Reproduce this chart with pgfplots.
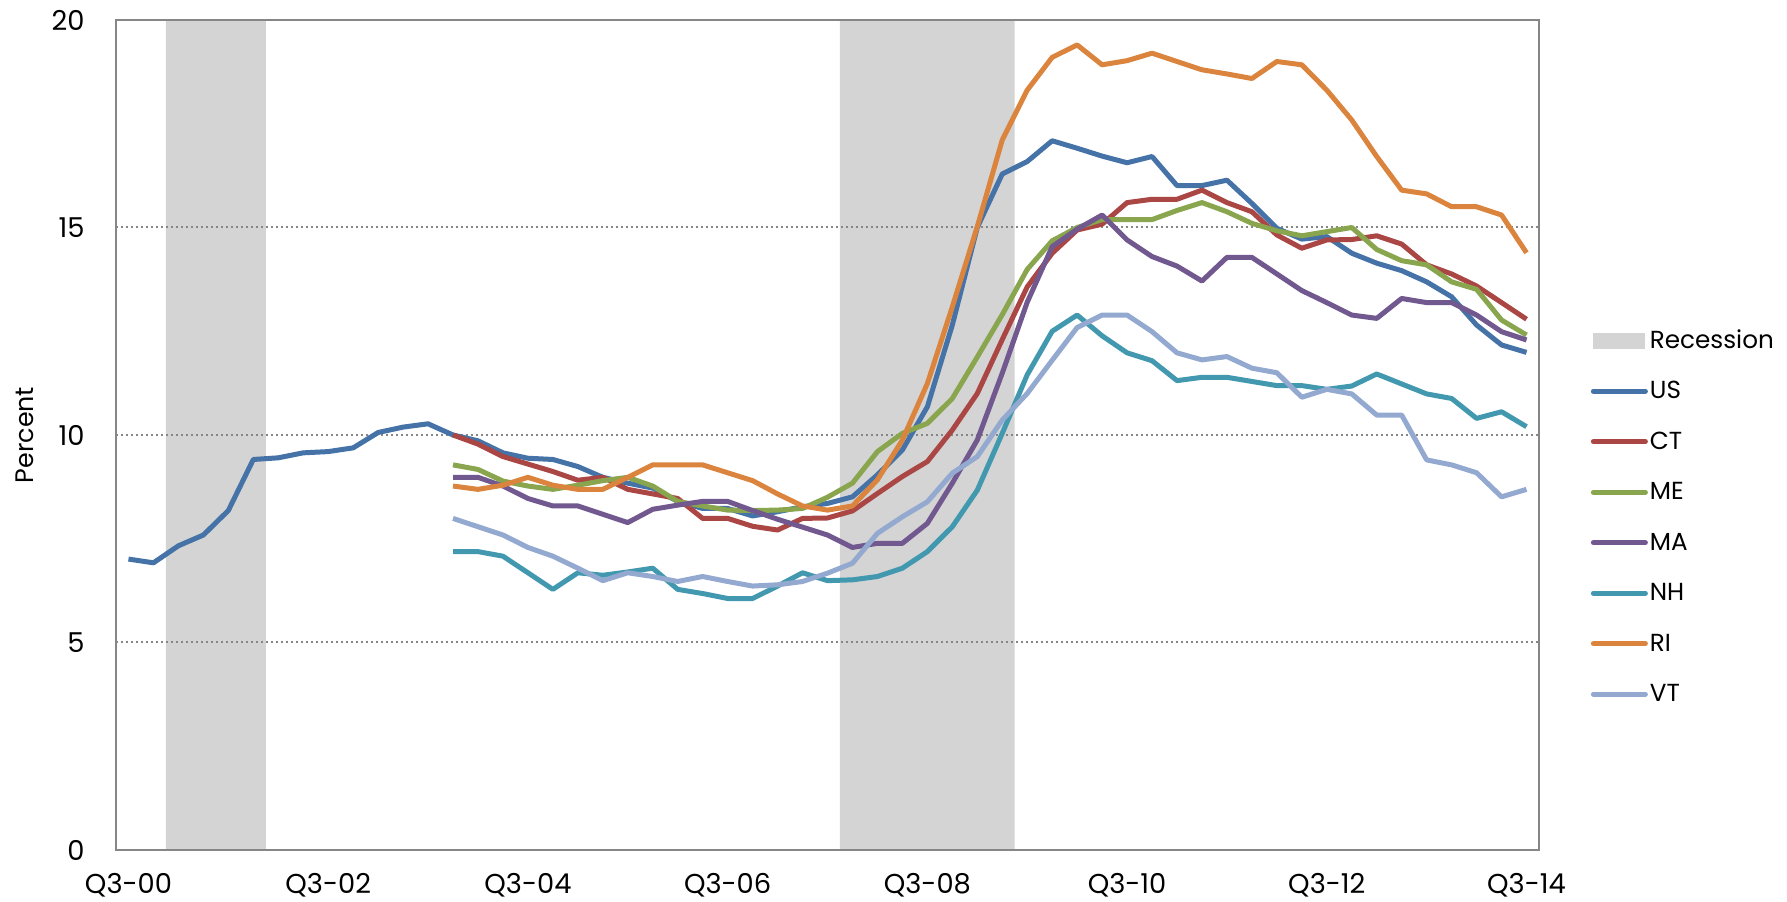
\documentclass[border=0pt]{standalone}
\usepackage{fontspec}
\setmainfont{Poppins}
\usepackage{pgfplots}
\pgfplotsset{compat=1.18}
\definecolor{cUS}{HTML}{4572A7}
\definecolor{cCT}{HTML}{AA4643}
\definecolor{cME}{HTML}{89A54E}
\definecolor{cMA}{HTML}{71588F}
\definecolor{cNH}{HTML}{4198AF}
\definecolor{cRI}{HTML}{DB843D}
\definecolor{cVT}{HTML}{93A9CF}
\definecolor{recgray}{HTML}{D4D4D4}
\definecolor{axgray}{HTML}{868686}
\begin{document}
\begin{tikzpicture}
\begin{axis}[
  set layers,
  at={(34.8pt,15.6pt)}, anchor=south west,
  scale only axis, width=426.9pt, height=249pt,
  xmin=-0.5, xmax=56.5, ymin=0, ymax=20,
  xtick={0,8,16,24,32,40,48,56},
  xticklabels={Q3-00,Q3-02,Q3-04,Q3-06,Q3-08,Q3-10,Q3-12,Q3-14},
  ytick={0,5,10,15,20},
  ymajorgrids,
  grid style={axgray, line width=0.6pt, dash pattern=on 0.6pt off 0.9pt},
  major tick length=0pt,
  axis line style={axgray, line width=0.75pt},
  tick label style={font=\fontsize{8.2}{9.5}\selectfont},
  xticklabel style={anchor=base, inner ysep=0.3pt, yshift=-13.2pt},
  yticklabel style={xshift=-5.9pt},
  /pgf/number format/assume math mode=true,
  ylabel={Percent},
  ylabel style={at={(axis description cs:-0.064,0.5)}, anchor=center, font=\fontsize{7.6}{9}\selectfont},
  legend cell align=left,
  legend style={at={(1.036,0.6295)}, anchor=north west, draw=none, fill=none, inner sep=0pt,
    row sep=7.65pt, font=\fontsize{7.4}{9}\selectfont,
    nodes={inner ysep=0pt, inner xsep=0.6pt, text height=6pt, text depth=1.5pt}},
  legend image code/.code={\draw[#1, line cap=round] (0pt,0pt) -- (15.6pt,0pt);},
  every axis plot/.append style={line width=1.5pt, line join=round},
]
\addplot[fill=recgray, draw=none, on layer=axis background,
  legend image code/.code={\fill[recgray] (0pt,-2.4pt) rectangle (15.6pt,2.4pt);}]
  coordinates {(1.5,0) (1.5,20) (5.5,20) (5.5,0)} \closedcycle;
\addlegendentry{Recession}
\addplot[fill=recgray, draw=none, on layer=axis background, forget plot]
  coordinates {(28.5,0) (28.5,20) (35.5,20) (35.5,0)} \closedcycle;

\addplot[cUS] table {
0 7.01
1 6.92
2 7.33
3 7.59
4 8.18
5 9.41
6 9.45
7 9.57
8 9.60
9 9.69
10 10.06
11 10.19
12 10.27
13 10.0
14 9.86
15 9.57
16 9.44
17 9.41
18 9.24
19 8.98
20 8.84
21 8.72
22 8.40
23 8.23
24 8.23
25 8.05
26 8.15
27 8.27
28 8.35
29 8.51
30 9.04
31 9.64
32 10.68
33 12.65
34 15.0
35 16.29
36 16.59
37 17.09
38 16.91
39 16.72
40 16.56
41 16.71
42 16.01
43 16.01
44 16.14
45 15.58
46 14.98
47 14.72
48 14.78
49 14.38
50 14.14
51 13.96
52 13.69
53 13.33
54 12.65
55 12.17
56 11.99
};
\addlegendentry{US}
\addplot[cCT] table {
13 10.0
14 9.78
15 9.48
16 9.30
17 9.12
18 8.91
19 8.98
20 8.69
21 8.58
22 8.47
23 7.99
24 7.99
25 7.80
26 7.71
27 7.99
28 8.0
29 8.17
30 8.59
31 9.0
32 9.36
33 10.12
34 11.0
35 12.3
36 13.57
37 14.38
38 14.94
39 15.08
40 15.6
41 15.68
42 15.68
43 15.90
44 15.60
45 15.38
46 14.82
47 14.50
48 14.70
49 14.71
50 14.80
51 14.60
52 14.10
53 13.88
54 13.59
55 13.19
56 12.79
};
\addlegendentry{CT}
\addplot[cME] table {
13 9.28
14 9.17
15 8.89
16 8.77
17 8.69
18 8.79
19 8.90
20 8.98
21 8.77
22 8.40
23 8.29
24 8.19
25 8.18
26 8.19
27 8.23
28 8.50
29 8.84
30 9.60
31 10.04
32 10.28
33 10.88
34 11.88
35 12.9
36 13.99
37 14.68
38 15.0
39 15.19
40 15.19
41 15.19
42 15.41
43 15.60
44 15.38
45 15.10
46 14.92
47 14.80
48 14.90
49 15.0
50 14.47
51 14.20
52 14.10
53 13.69
54 13.51
55 12.77
56 12.41
};
\addlegendentry{ME}
\addplot[cMA] table {
13 8.98
14 8.98
15 8.77
16 8.47
17 8.29
18 8.29
19 8.09
20 7.89
21 8.21
22 8.31
23 8.40
24 8.40
25 8.18
26 7.97
27 7.78
28 7.59
29 7.29
30 7.39
31 7.39
32 7.87
33 8.84
34 9.88
35 11.49
36 13.2
37 14.54
38 14.96
39 15.30
40 14.70
41 14.30
42 14.07
43 13.71
44 14.28
45 14.28
46 13.88
47 13.48
48 13.19
49 12.89
50 12.81
51 13.29
52 13.19
53 13.19
54 12.89
55 12.49
56 12.29
};
\addlegendentry{MA}
\addplot[cNH] table {
13 7.19
14 7.19
15 7.08
16 6.68
17 6.28
18 6.68
19 6.62
20 6.70
21 6.79
22 6.28
23 6.18
24 6.06
25 6.06
26 6.36
27 6.68
28 6.49
29 6.51
30 6.59
31 6.79
32 7.19
33 7.79
34 8.67
35 10.04
36 11.45
37 12.5
38 12.89
39 12.39
40 11.98
41 11.79
42 11.31
43 11.39
44 11.39
45 11.29
46 11.19
47 11.19
48 11.10
49 11.18
50 11.47
51 11.23
52 10.99
53 10.88
54 10.40
55 10.56
56 10.20
};
\addlegendentry{NH}
\addplot[cRI] table {
13 8.77
14 8.69
15 8.79
16 8.98
17 8.79
18 8.69
19 8.69
20 8.98
21 9.28
22 9.28
23 9.28
24 9.09
25 8.90
26 8.58
27 8.29
28 8.19
29 8.29
30 8.92
31 9.88
32 11.24
33 13.09
34 15.02
35 17.11
36 18.31
37 19.10
38 19.40
39 18.92
40 19.02
41 19.20
42 19.0
43 18.80
44 18.70
45 18.59
46 19.0
47 18.92
48 18.31
49 17.59
50 16.71
51 15.90
52 15.81
53 15.50
54 15.50
55 15.30
56 14.39
};
\addlegendentry{RI}
\addplot[cVT] table {
13 7.99
14 7.79
15 7.59
16 7.29
17 7.08
18 6.79
19 6.49
20 6.68
21 6.59
22 6.47
23 6.59
24 6.47
25 6.36
26 6.39
27 6.47
28 6.67
29 6.91
30 7.63
31 8.03
32 8.39
33 9.08
34 9.48
35 10.36
36 11.0
37 11.8
38 12.59
39 12.89
40 12.89
41 12.49
42 11.98
43 11.81
44 11.89
45 11.61
46 11.50
47 10.91
48 11.10
49 10.99
50 10.48
51 10.48
52 9.40
53 9.28
54 9.09
55 8.51
56 8.69
};
\addlegendentry{VT}
\end{axis}
\pgfresetboundingbox
\path (0,0) rectangle (536.1pt,270.6pt);
\end{tikzpicture}
\end{document}
